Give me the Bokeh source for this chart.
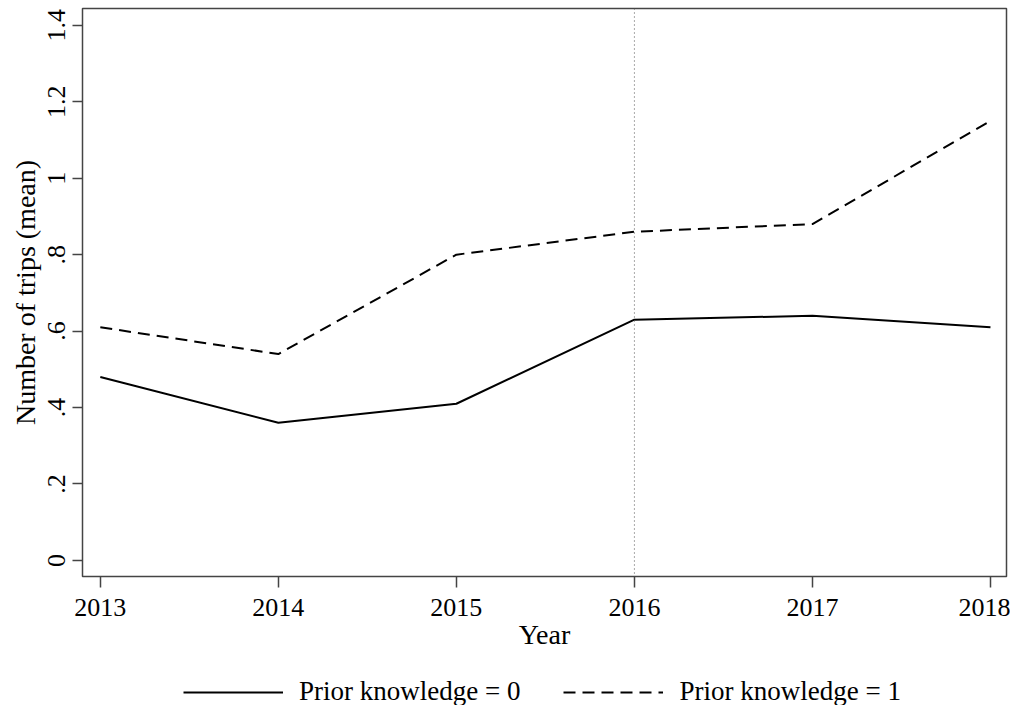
from bokeh.plotting import figure
from bokeh.layouts import column
from bokeh.models import FixedTicker, Span, Legend, LegendItem, Range1d
from bokeh.embed import file_html
from bokeh.resources import INLINE

years = [2013, 2014, 2015, 2016, 2017, 2018]
prior0 = [0.48, 0.36, 0.41, 0.63, 0.64, 0.61]
prior1 = [0.61, 0.54, 0.80, 0.86, 0.88, 1.15]
y_ticks = [0, 0.2, 0.4, 0.6, 0.8, 1.0, 1.2, 1.4]
y_tick_labels = ["0", ".2", ".4", ".6", ".8", "1", "1.2", "1.4"]
label0 = "Prior knowledge = 0"
label1 = "Prior knowledge = 1"

FONT = "Liberation Serif"
DASH = "12 7"

p = figure(width=1010, height=658, output_backend="svg", toolbar_location=None,
           x_range=Range1d(2012.9, 2018.09), y_range=Range1d(-0.042, 1.444),
           min_border_left=82, min_border_right=4, min_border_top=8, min_border_bottom=82)

p.xgrid.visible = False
p.ygrid.visible = False
p.outline_line_color = "#444444"
p.outline_line_width = 1.5
p.background_fill_color = "white"
p.border_fill_color = "white"

r0 = p.line(years, prior0, line_color="black", line_width=2)
r1 = p.line(years, prior1, line_color="black", line_width=2, line_dash=DASH)

p.add_layout(Span(location=2016, dimension="height", line_color="#555555",
                  line_width=1, line_dash="1 3"))

ax = p.xaxis[0]
ax.ticker = FixedTicker(ticks=years)
ax.axis_label = "Year"
ax.axis_label_text_font = FONT
ax.axis_label_text_font_size = "28px"
ax.axis_label_text_font_style = "normal"
ax.axis_label_text_color = "black"
ax.axis_label_standoff = 0
ax.major_label_text_font = FONT
ax.major_label_text_font_size = "26px"
ax.major_label_text_color = "black"
ax.major_label_standoff = 11
ax.major_tick_out = 11
ax.major_tick_in = 0
ax.minor_tick_out = 0
ax.minor_tick_in = 0
ax.axis_line_color = "#444444"
ax.major_tick_line_color = "#444444"
ax.major_tick_line_width = 1.5

ay = p.yaxis[0]
ay.ticker = FixedTicker(ticks=y_ticks)
ay.major_label_overrides = {t: l for t, l in zip(y_ticks, y_tick_labels)}
ay.major_label_orientation = "vertical"
ay.axis_label = "Number of trips (mean)"
ay.axis_label_text_font = FONT
ay.axis_label_text_font_size = "28px"
ay.axis_label_text_font_style = "normal"
ay.axis_label_text_color = "black"
ay.axis_label_standoff = 5
ay.major_label_text_font = FONT
ay.major_label_text_font_size = "26px"
ay.major_label_text_color = "black"
ay.major_label_standoff = 7
ay.major_tick_out = 10
ay.major_tick_in = 0
ay.minor_tick_out = 0
ay.minor_tick_in = 0
ay.axis_line_color = "#444444"
ay.major_tick_line_color = "#444444"
ay.major_tick_line_width = 1.5

# legend panel below the plot (no axes; sample lines kept out of view)
lp = figure(width=1010, height=47, output_backend="svg", toolbar_location=None,
            x_range=Range1d(0, 1), y_range=Range1d(0, 1),
            x_axis_location=None, y_axis_location=None,
            min_border_left=0, min_border_right=0, min_border_top=0, min_border_bottom=0)
lp.xgrid.visible = False
lp.ygrid.visible = False
lp.outline_line_color = None
lr0 = lp.line([-5, -4], [-5, -5], line_color="black", line_width=2)
lr1 = lp.line([-5, -4], [-5, -5], line_color="black", line_width=2, line_dash=DASH)

legend = Legend(items=[LegendItem(label=label0, renderers=[lr0]),
                       LegendItem(label=label1, renderers=[lr1])],
                orientation="horizontal", location=(101, -2))
legend.label_text_font = FONT
legend.label_text_font_size = "27px"
legend.label_text_color = "black"
legend.glyph_width = 100
legend.glyph_height = 22
legend.label_standoff = 16
legend.spacing = 43
legend.padding = 0
legend.margin = 0
legend.border_line_alpha = 0
legend.background_fill_alpha = 0
lp.add_layout(legend, "center")

layout = column(p, lp, spacing=0)
open("out.html", "w").write(file_html(layout, INLINE))
